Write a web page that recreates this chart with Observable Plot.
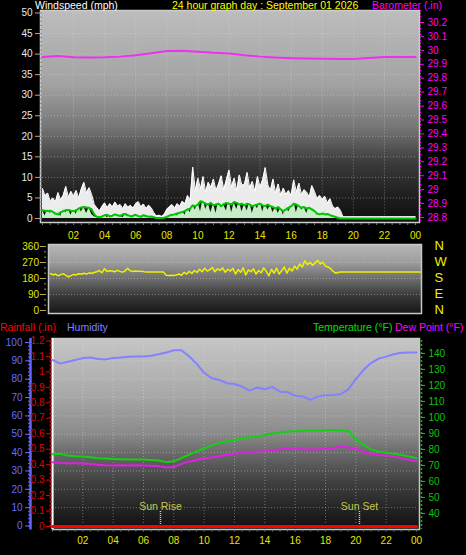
<!DOCTYPE html>
<html><head><meta charset="utf-8">
<script src="https://cdn.jsdelivr.net/npm/d3@7"></script>
<script src="https://cdn.jsdelivr.net/npm/@observablehq/plot@0.6"></script>
<style>
html,body{margin:0;padding:0;background:#000;}
#chart{position:relative;width:466px;height:555px;background:#000;overflow:hidden;font-family:"Liberation Sans",Arial,sans-serif;}
#chart svg{position:absolute;left:0;top:0;}
.lbl{position:absolute;white-space:nowrap;font-size:10.5px;line-height:11px;}
</style></head><body><div id="chart"></div>
<script>
// ---------- data ----------
const hourTicks = [2,4,6,8,10,12,14,16,18,20,22,24];
const hourLabels = ["02","04","06","08","10","12","14","16","18","20","22","00"];
const halfHourTicks = d3.range(0, 24.01, 0.5);

// wind (10-minute readings from 00:00)
const windGust = [
 7.3,5.5,6.2,4.2,5.0,4.0, 6.3,4.5,5.6,7.8,5.2,6.6, 5.4,6.8,5.0,7.2,8.8,6.2,
 7.5,5.8,3.4,2.6,1.8,2.9, 3.8,2.6,3.6,2.8,4.0,3.0, 3.4,2.4,3.6,2.7,3.2,2.5,
 3.6,4.1,2.8,3.5,2.4,3.2, 2.6,1.4,0.6,0.8,0.5,1.0, 2.2,2.8,3.4,2.5,3.6,3.0,
 4.2,3.6,5.6,4.4,12.5,6.8, 9.8,7.2,10.2,6.4,8.8,7.6, 9.6,6.8,8.4,10.4,7.0,9.4,
 11.8,7.6,9.8,6.8,10.6,8.0, 8.4,11.2,7.4,9.0,6.6,10.2, 7.6,9.4,12.4,8.2,6.8,9.6,
 6.2,8.4,5.6,7.4,5.8,6.8, 5.6,9.4,6.4,8.6,5.8,7.0, 6.4,5.2,8.0,6.6,4.8,5.6,
 4.6,5.4,3.8,4.8,3.0,2.4, 2.8,2.0,0.4];
const windSpeed = [
 2.0,0.6,2.4,1.2,2.2,0.8, 1.8,0.4,2.6,1.4,2.2,0.8, 2.4,1.0,3.0,1.6,2.8,1.2,
 2.6,1.0,0.4,0.2,0.6,0.2, 1.0,0.2,0.8,0.3,1.2,0.4, 0.8,0.2,1.0,0.4,0.6,0.2,
 1.2,0.4,0.8,1.0,0.2,0.6, 0.4,0.2,0,0,0,0.2, 0.6,1.0,0.4,1.2,0.6,1.4,
 1.8,0.8,2.6,1.4,3.4,2.0, 4.2,1.6,4.8,2.2,3.8,1.4, 3.6,1.2,4.4,2.6,3.2,1.8,
 4.6,1.4,3.8,2.2,4.2,1.6, 3.6,1.8,4.0,1.2,3.4,2.4, 4.4,1.6,3.8,2.0,3.2,1.4,
 3.0,1.2,2.6,0.8,3.4,1.6, 2.8,4.2,1.4,3.6,2.0,2.8, 1.2,3.0,1.8,2.6,0.8,1.6,
 1.0,2.2,0.6,1.4,0.4,0.8, 0.4,0.2,0];
const windAvg = [
 2.0,1.9,1.8,1.9,1.6,1.2, 1.0,1.5,1.8,2.0,2.1,1.9, 1.8,2.0,2.4,2.7,2.8,2.7,
 2.6,2.2,1.0,0.4,0.3,0.5, 0.8,0.9,0.5,0.7,1.0,0.8, 0.6,1.0,1.1,0.8,0.5,0.7,
 0.9,0.6,0.4,0.8,0.6,0.4, 0.5,0.3,0.1,0.1,0.1,0.2, 0.4,0.7,0.9,1.0,1.2,1.4,
 1.6,1.8,2.2,2.4,3.2,3.0, 3.4,4.2,4.0,3.6,3.4,3.8, 3.2,3.4,3.6,3.0,3.5,3.8,
 3.6,3.4,4.0,3.8,3.4,3.6, 3.2,3.6,3.4,3.0,3.2,3.4, 3.6,3.2,3.0,3.4,3.0,2.8,
 2.4,2.8,2.2,1.8,2.2,2.6, 3.0,3.6,3.4,3.0,2.6,2.8, 2.4,2.6,2.2,1.8,1.2,1.0,
 1.2,1.0,1.1,0.8,0.6,0.4, 0.2,0,0];
const windEndGust = 0.4, windEndSpeed = 0, windEndAvg = 0;

// wind direction (10-minute readings from 00:00), degrees
const windDir = [
 208,200,205,195,202,206, 198,190,196,203,200,207, 204,210,205,212,208,214,
 218,225,212,235,220,224, 222,218,226,220,216,222, 238,224,220,222,221,221,
 220,216,216,216,216,216, 216,216,216,198,197,198, 197,200,205,198,215,205,
 220,208,225,214,232,218, 238,222,230,242,218,235, 225,240,215,232,222,238,
 205,230,215,240,200,228, 218,235,205,225,212,240, 220,195,232,210,238,205,
 225,245,210,238,222,250, 232,262,245,280,258,270, 255,268,282,262,272,250,
 245,236,220,210,215,216];
const windDirEnd = 216;

// barometer (hourly), inches
const baroHours = [0,1,2,3,4,5,6,7,8,9,10,11,12,13,14,15,16,17,18,19,20,21,22,23,24];
const baroValues = [29.952,29.96,29.95,29.948,29.95,29.955,29.965,29.98,29.995,29.998,29.99,29.982,29.978,29.965,29.955,29.948,29.944,29.942,29.94,29.938,29.938,29.945,29.952,29.952,29.952];

// half-hourly readings for humidity / temperature / dew point
const humidity = [90.5,88.5,89.5,90.5,91.5,91.8,91,90.8,91.5,91.8,92.2,92.4,92.4,92.8,93.6,94.5,95.8,95.8,92.5,88.5,83.5,80.5,79.6,77.8,77.4,76,73.8,75.5,74.5,75.8,73.2,73,71,70.6,68.8,70.5,71.2,71.4,71.8,74.5,80,85,88.8,91.2,92.3,93.6,94.4,94.6,94.6];
const temperature = [77,77.4,76.2,75.8,75.6,75.2,74.6,74.3,74.1,73.9,73.8,73.8,73.7,73.5,73.2,72.1,72.6,74.6,76.8,78.8,80.6,82.6,84.0,85.2,86.0,87.0,87.6,88.2,89.0,89.8,90.6,91.2,91.4,91.6,91.8,91.8,92.0,92.2,92.0,91.5,86.5,83,80,78.8,78.0,77.4,76.6,75.6,74.6];
const dewPoint = [72.1,71.6,71.4,71.4,71.3,71.0,70.4,70.1,70.0,70.2,70.0,70.1,70.0,69.8,69.6,68.7,69.0,71.0,72.4,73.6,74.4,75.2,75.8,76.7,77.4,78.3,78.2,78.8,78.9,79.4,80.2,80.4,80.6,79.9,80.3,79.8,80.6,81.0,81.9,81.2,80.4,78.4,77.4,76.7,76.2,75.6,74.6,73.6,72.7];
const rainHours = [0,24];
const rainValues = [0,0];

const sunEvents = ["Sun Rise","Sun Set"];
const sunHours = [7.12, 20.24];

const wsTicks = [0,5,10,15,20,25,30,35,40,45,50];
const baroTicks = [28.8,28.9,29,29.1,29.2,29.3,29.4,29.5,29.6,29.7,29.8,29.9,30,30.1,30.2];
const baroLabels = ["28.8","28.9","29","29.1","29.2","29.3","29.4","29.5","29.6","29.7","29.8","29.9","30","30.1","30.2"];
const dirTicks = [0,90,180,270,360];
const dirCompass = ["N","E","S","W","N"];
const humTicks = [0,10,20,30,40,50,60,70,80,90,100];
const rainTicks = [0,0.1,0.2,0.3,0.4,0.5,0.6,0.7,0.8,0.9,1,1.1,1.2];
const rainLabels = ["0","0.1","0.2","0.3","0.4","0.5","0.6","0.7","0.8","0.9","1","1.1","1.2"];
const tempTicks = [40,50,60,70,80,90,100,110,120,130,140];

// ---------- tables ----------
const wind = windGust.map((g,i)=>({t:i/6, gust:g, speed:windSpeed[i], avg:windAvg[i]}));
wind.push({t:24, gust:windEndGust, speed:windEndSpeed, avg:windEndAvg});
const dir = windDir.map((d,i)=>({t:i/6, v:d}));
dir.push({t:24, v:windDirEnd});
const baro = baroHours.map((h,i)=>({t:h, v:baroValues[i]}));
const half = humidity.map((h,i)=>({t:i/2, hum:h, temp:temperature[i], dew:dewPoint[i]}));
const rain = rainHours.map((h,i)=>({t:h, v:rainValues[i]}));
const sun = sunEvents.map((s,i)=>({label:s, t:sunHours[i]}));

// ---------- helpers ----------
const W=466, H=555;
const FONT = "Liberation Sans, Arial, sans-serif";
const chart = document.getElementById("chart");
function layer(o){
  const svg = Plot.plot(Object.assign({width:W, height:H,
    style:{background:"transparent", overflow:"visible", fontFamily:FONT, fontSize:"10px", color:"#fff"}}, o));
  chart.appendChild(svg);
  return svg;
}
function gradient(svg,id,stops){
  const defs = d3.select(svg).insert("defs", ":first-child");
  const g = defs.append("linearGradient").attr("id", id).attr("x1",0).attr("y1",0).attr("x2",0).attr("y2",1);
  stops.forEach(([o,c]) => g.append("stop").attr("offset", o).attr("stop-color", c));
}
const hourFmt = d => hourLabels[hourTicks.indexOf(d)];
const blank = () => "";
const gridStyle = {stroke:"#e0e0e0", strokeOpacity:0.4, strokeDasharray:"1,2"};

// ---------- panel 1: wind speed ----------
const m1 = {marginLeft:42, marginRight:51, marginTop:12.5, marginBottom:337};
const bgIns1 = {insetLeft:-2, insetRight:-4, insetTop:-2.5, insetBottom:-4};
const s1 = layer({...m1,
  x:{domain:[0,24], axis:null}, y:{domain:[0,50], axis:null},
  marks:[
    Plot.frame({fill:"url(#gWS)", ...bgIns1}),
    Plot.gridY({ticks:wsTicks.slice(1,-1), ...gridStyle}),
    Plot.gridX({ticks:hourTicks.slice(0,-1), ...gridStyle}),
    Plot.areaY(wind, {x:"t", y1:"avg", y2:"gust", fill:"#ececec"}),
    Plot.lineY(wind, {x:"t", y:"gust", stroke:"#ffffff", strokeWidth:1}),
    Plot.areaY(wind, {x:"t", y:"speed", fill:"#c6eec6"}),
    Plot.lineY(wind, {x:"t", y:"avg", stroke:"#00c800", strokeWidth:2}),
    Plot.frame({stroke:"#cccccc", strokeWidth:1.5, ...bgIns1}),
    Plot.axisY({ticks:wsTicks, anchor:"left", tickSize:5, tickPadding:3, dx:-2, stroke:"#aaaaaa", fill:"#e8e8e8", label:null}),
    Plot.axisY({ticks:d3.range(0,51,1), anchor:"left", tickSize:2, tickFormat:blank, stroke:"#888", label:null}),
    Plot.axisX({ticks:hourTicks, anchor:"bottom", tickSize:0, tickPadding:13.5, tickFormat:hourFmt, fill:"#e6e600", label:null}),
    Plot.axisX({ticks:halfHourTicks, anchor:"bottom", tickSize:2, dy:5, tickFormat:blank, stroke:"#777", label:null})
  ]});
gradient(s1, "gWS", [[0,"#bdbdbd"],[0.35,"#a2a2a2"],[0.55,"#767676"],[0.72,"#3a3a3a"],[0.88,"#1e1e1e"],[1,"#0e0e0e"]]);

layer({...m1, marginTop:22, marginBottom:338,
  x:{domain:[0,24], axis:null}, y:{domain:[28.8,30.2], axis:null},
  marks:[
    Plot.ruleX([24], {dx:5, stroke:"#ff00ff", strokeDasharray:"1,2", insetTop:-12, insetBottom:-4}),
    Plot.lineY(baro, {x:"t", y:"v", stroke:"#f030f0", strokeWidth:2}),
    Plot.axisY({ticks:baroTicks, anchor:"right", dx:5, tickSize:3, tickPadding:4, tickFormat:d=>baroLabels[baroTicks.indexOf(d)], color:"#ff00ff", label:null})
  ]});

// ---------- panel 2: wind direction ----------
const bgIns2 = {insetLeft:-2, insetRight:-1, insetTop:-2, insetBottom:-3};
const s2 = layer({marginLeft:50, marginRight:46, marginTop:246, marginBottom:245,
  x:{domain:[0,24], axis:null}, y:{domain:[0,360], axis:null},
  marks:[
    Plot.frame({fill:"url(#gDir)", ...bgIns2}),
    Plot.gridY({ticks:[90,180,270], ...gridStyle}),
    Plot.lineY(dir, {x:"t", y:"v", stroke:"#f0f000", strokeWidth:1.5}),
    Plot.frame({stroke:"#c8c8c8", strokeWidth:1.5, ...bgIns2}),
    Plot.axisY({ticks:dirTicks, anchor:"left", tickSize:4, tickPadding:1.5, dx:-6, stroke:"#b0b040", fill:"#e6e600", label:null}),
    Plot.axisY({ticks:d3.range(0,361,30), anchor:"left", tickSize:2, dx:-4, tickFormat:blank, stroke:"#a0a030", label:null}),
    Plot.axisY({ticks:dirTicks, anchor:"right", tickSize:0, tickPadding:14, dy:-1, tickFormat:d=>dirCompass[dirTicks.indexOf(d)], fill:"#f0f000", fontSize:13, label:null})
  ]});
gradient(s2, "gDir", [[0,"#b6b6b6"],[0.25,"#9e9e9e"],[0.5,"#6c6c6c"],[0.75,"#383838"],[1,"#161616"]]);

// ---------- panel 3: humidity / rain / temperature ----------
const m3 = {marginLeft:52, marginRight:50};
const bgIns3 = {insetLeft:0, insetRight:-3, insetTop:-4, insetBottom:-3.5};
const s3 = layer({...m3, marginTop:342, marginBottom:29.5,
  x:{domain:[0,24], axis:null}, y:{domain:[0,100], axis:null},
  marks:[
    Plot.frame({fill:"url(#gHum)", ...bgIns3}),
    Plot.gridY({ticks:humTicks.slice(1,-1), ...gridStyle}),
    Plot.gridX({ticks:hourTicks.slice(0,-1), ...gridStyle}),
    Plot.frame({stroke:"#c8c8c8", strokeWidth:1.5, ...bgIns3}),
    Plot.ruleX([0], {stroke:"#ffffff", strokeWidth:2, insetTop:-4, insetBottom:-3.5}),
    Plot.lineY(half, {x:"t", y:"hum", stroke:"#8282ff", strokeWidth:2}),
    Plot.ruleX([0], {dx:-22, stroke:"#6464ff", strokeWidth:2.5, insetTop:-4, insetBottom:-4}),
    Plot.axisY({ticks:humTicks, anchor:"left", dx:-22, tickSize:5, tickPadding:3, color:"#6a6aff", label:null}),
    Plot.axisY({ticks:d3.range(0,101,2), anchor:"left", dx:-22, tickSize:2, tickFormat:blank, stroke:"#6a6aff", label:null}),
    Plot.axisX({ticks:hourTicks, anchor:"bottom", tickSize:0, tickPadding:10.5, tickFormat:hourFmt, fill:"#e6e600", label:null}),
    Plot.axisX({ticks:halfHourTicks, anchor:"bottom", tickSize:2, dy:4, tickFormat:blank, stroke:"#777", label:null})
  ]});
gradient(s3, "gHum", [[0,"#c6c6c6"],[0.3,"#a8a8a8"],[0.5,"#8a8a8a"],[0.6,"#6a6a6a"],[0.75,"#404040"],[0.9,"#222222"],[1,"#0f0f0f"]]);

layer({...m3, marginTop:353, marginBottom:42,
  x:{domain:[0,24], axis:null}, y:{domain:[40,140], axis:null},
  marks:[
    Plot.ruleX([24], {dx:5, stroke:"#00c000", strokeDasharray:"2,2", strokeWidth:1.5, insetTop:-13, insetBottom:-16}),
    Plot.lineY(half, {x:"t", y:"temp", stroke:"#14d014", strokeWidth:2}),
    Plot.lineY(half, {x:"t", y:"dew", stroke:"#e020e0", strokeWidth:2}),
    Plot.axisY({ticks:tempTicks, anchor:"right", dx:5, tickSize:3, tickPadding:4, color:"#10c010", label:null})
  ]});

layer({...m3, marginTop:340.5, marginBottom:29,
  x:{domain:[0,24], axis:null}, y:{domain:[0,1.2], axis:null},
  marks:[
    Plot.ruleX([0], {dx:-2, stroke:"#e00000", strokeDasharray:"2,2", strokeWidth:2, insetBottom:-2}),
    Plot.ruleX(sun, {x:"t", y1:0, y2:0.1, stroke:"#e0e040", strokeDasharray:"1,1", strokeWidth:1.5}),
    Plot.text(sun, {x:"t", y:0.13, text:"label", fill:"#c8c850", fontSize:10.5}),
    Plot.lineY(rain, {x:"t", y:"v", stroke:"#ff0000", strokeWidth:3}),
    Plot.axisY({ticks:rainTicks, anchor:"left", dx:-2, tickSize:4, tickPadding:2, tickFormat:d=>rainLabels[rainTicks.indexOf(d)], color:"#e00000", label:null})
  ]});

// ---------- titles ----------
function label(text, left, top, color){
  const d = document.createElement("div");
  d.className = "lbl"; d.textContent = text;
  d.style.left = left + "px"; d.style.top = top + "px"; d.style.color = color;
  chart.appendChild(d);
}
label("Windspeed (mph)", 35, 0, "#ffffff");
label("24 hour graph day : September 01 2026", 172, 0, "#ffff00");
label("Barometer (.in)", 372, 0, "#ff00ff");
label("Rainfall (.in)", 0, 322, "#ff0000");
label("Humidity", 67, 322, "#8080ff");
label("Temperature (°F)", 313, 322, "#00e000");
label("Dew Point (°F)", 395, 322, "#ff00ff");
</script></body></html>
